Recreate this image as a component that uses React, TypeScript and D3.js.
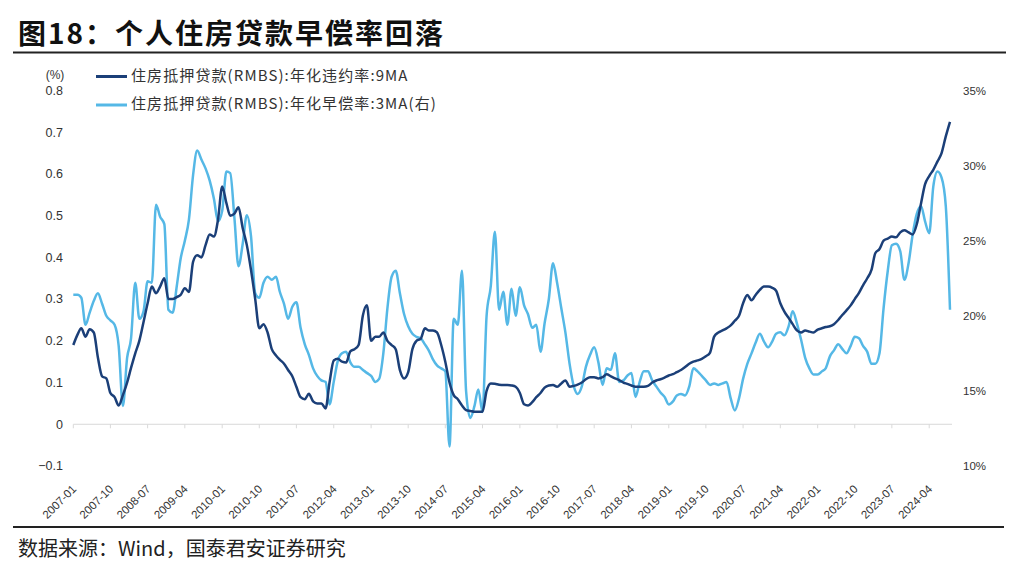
import * as d3 from "d3";
import { useMemo } from "react";

const WIDTH = 1024;
const HEIGHT = 571;

const START_MONTH = "2007-01";

// 住房抵押贷款(RMBS):年化违约率:9MA (%), monthly from 2007-01
const DEFAULT_RATE_9MA = [
  0.19, 0.215, 0.23, 0.21, 0.228, 0.22, 0.16, 0.115, 0.11, 0.075, 0.065, 0.045,
  0.07, 0.1, 0.135, 0.17, 0.2, 0.245, 0.29, 0.33, 0.314, 0.33, 0.35, 0.3,
  0.3, 0.305, 0.31, 0.326, 0.317, 0.39, 0.405, 0.4, 0.43, 0.455, 0.45, 0.49,
  0.57, 0.53, 0.5, 0.505, 0.52, 0.47, 0.43, 0.37, 0.3, 0.23, 0.24, 0.22,
  0.18, 0.165, 0.155, 0.145, 0.13, 0.115, 0.09, 0.065, 0.06, 0.073, 0.055, 0.05,
  0.05, 0.038, 0.1, 0.153, 0.157, 0.15, 0.148, 0.175, 0.18, 0.19, 0.26, 0.285,
  0.2, 0.21, 0.21, 0.22, 0.2, 0.19, 0.18, 0.13, 0.11, 0.125, 0.18, 0.2,
  0.205, 0.23, 0.225, 0.225, 0.22, 0.19, 0.15, 0.1, 0.07, 0.06, 0.045, 0.034,
  0.032, 0.03, 0.03, 0.03, 0.08, 0.098, 0.097, 0.095, 0.094, 0.094, 0.093, 0.09,
  0.075, 0.048, 0.045, 0.053, 0.065, 0.075, 0.088, 0.093, 0.094, 0.09, 0.098, 0.105,
  0.09, 0.092, 0.095, 0.1, 0.108, 0.113, 0.113, 0.11, 0.113, 0.12, 0.115, 0.11,
  0.106, 0.1, 0.097, 0.093, 0.09, 0.09, 0.09, 0.092, 0.1, 0.105, 0.108, 0.112,
  0.117, 0.12, 0.125, 0.13, 0.137, 0.145, 0.15, 0.153, 0.157, 0.163, 0.172, 0.21,
  0.22, 0.225, 0.23, 0.237, 0.248, 0.26, 0.29, 0.31, 0.297, 0.31, 0.322, 0.33,
  0.33, 0.327, 0.32, 0.29, 0.27, 0.255, 0.24, 0.225, 0.22, 0.225, 0.222, 0.22,
  0.227, 0.23, 0.233, 0.235, 0.24, 0.25, 0.262, 0.273, 0.285, 0.3, 0.315, 0.333,
  0.35, 0.37, 0.41, 0.42, 0.44, 0.445, 0.45, 0.448, 0.46, 0.465, 0.46, 0.455,
  0.48, 0.53, 0.575, 0.595, 0.61, 0.63, 0.65, 0.69, 0.725,
];

// 住房抵押贷款(RMBS):年化早偿率:3MA (%), right axis, monthly from 2007-01
const PREPAY_RATE_3MA = [
  21.4, 21.4, 21.2, 19.4, 20.2, 21.0, 21.5, 20.8, 20.0, 19.7, 19.4, 18.0,
  14.0, 17.2, 18.5, 22.2, 19.8, 20.3, 22.3, 22.2, 27.4, 26.6, 26.1, 20.4,
  20.2, 22.0, 23.8, 25.0, 26.4, 29.4, 31.0, 30.4, 29.8, 29.0, 27.8, 26.3,
  27.0, 29.6, 29.5, 26.5, 23.3, 24.8, 26.7, 25.3, 21.5, 21.2, 22.2, 22.6,
  22.4, 22.6, 21.6, 20.8, 19.8, 20.6, 20.9, 19.2, 18.1, 17.4, 16.5, 16.0,
  15.7, 15.6, 14.1, 15.6, 17.0, 17.5, 17.6, 16.9, 16.6, 16.6, 16.4, 16.2,
  16.0, 15.6, 15.8, 17.5, 20.5, 22.6, 23.0, 21.5, 20.1, 19.3, 18.8, 18.6,
  18.5, 18.1, 17.7, 17.1, 16.7, 16.5, 16.3, 11.3, 19.8, 19.4, 23.0, 15.0,
  13.2, 14.0, 15.1, 13.6, 20.0, 22.0, 25.6, 20.4, 21.6, 19.4, 21.8, 20.0,
  21.9, 20.7, 20.1, 19.2, 19.4, 17.6, 19.5, 21.1, 23.5, 22.2, 20.5, 18.9,
  16.8, 15.3, 14.8, 15.3, 16.6, 17.4, 17.9, 16.9, 15.4, 16.5, 16.4, 17.5,
  15.6, 15.7, 16.0, 16.2, 14.6, 15.6, 16.3, 16.3, 15.7, 15.3, 14.9, 14.6,
  14.1, 14.3, 14.7, 14.8, 14.7, 15.3, 16.5, 16.3, 16.0, 15.7, 15.4, 15.5,
  15.4, 15.5, 15.6, 14.5, 13.7, 14.5, 15.8, 16.8, 17.5, 18.2, 18.8, 18.3,
  17.9, 18.3, 18.8, 18.9, 18.7, 19.3, 20.3, 19.5, 18.4, 17.2, 16.5, 16.1,
  16.1, 16.3, 16.5, 17.3, 17.7, 18.1, 17.8, 17.5, 18.0, 18.6, 18.5, 18.0,
  17.6, 16.8, 16.8, 17.5, 20.5, 23.0, 24.7, 24.8, 24.3, 22.4, 23.5, 25.4,
  26.8, 27.3, 26.3, 25.5, 28.6, 29.6, 29.2, 27.3, 20.4,
];

const X_TICK_LABELS = [
  "2007-01", "2007-10", "2008-07", "2009-04", "2010-01", "2010-10",
  "2011-07", "2012-04", "2013-01", "2013-10", "2014-07", "2015-04",
  "2016-01", "2016-10", "2017-07", "2018-04", "2019-01", "2019-10",
  "2020-07", "2021-04", "2022-01", "2022-10", "2023-07", "2024-04",
];

const LEFT_TICKS = [-0.1, 0, 0.1, 0.2, 0.3, 0.4, 0.5, 0.6, 0.7, 0.8];
const RIGHT_TICKS = [10, 15, 20, 25, 30, 35];

const DARK = "#1b3f78";
const LIGHT = "#55b8e6";
const LABEL_FONT = "'Liberation Sans', Arial, sans-serif";
const CJK_FONT = "'Noto Sans CJK SC', sans-serif";

const parseMonth = d3.timeParse("%Y-%m");

const PLOT = { left: 73.3, right: 950, top: 90.5, bottom: 466 };

export default function App() {
  const chart = useMemo(() => {
    const start = parseMonth(START_MONTH) as Date;
    const dates = DEFAULT_RATE_9MA.map((_, i) => d3.timeMonth.offset(start, i));

    const x = d3
      .scaleTime()
      .domain([dates[0], dates[dates.length - 1]])
      .range([PLOT.left, PLOT.right]);
    const yLeft = d3.scaleLinear().domain([-0.1, 0.8]).range([PLOT.bottom, PLOT.top]);
    const yRight = d3.scaleLinear().domain([10, 35]).range([PLOT.bottom, PLOT.top]);

    const defaultLine = d3
      .line<number>()
      .x((_, i) => x(dates[i]))
      .y((d) => yLeft(d))
      .curve(d3.curveMonotoneX);
    const prepayLine = d3
      .line<number>()
      .x((_, i) => x(dates[i]))
      .y((d) => yRight(d))
      .curve(d3.curveMonotoneX);

    const ticks = X_TICK_LABELS.map((t) => ({ label: t, x: x(parseMonth(t) as Date) }));

    return {
      yLeft,
      yRight,
      ticks,
      defaultPath: defaultLine(DEFAULT_RATE_9MA) ?? "",
      prepayPath: prepayLine(PREPAY_RATE_3MA) ?? "",
    };
  }, []);

  const { yLeft, yRight, ticks } = chart;
  const zeroY = yLeft(0);

  return (
    <div style={{ position: "absolute", left: 0, top: 0, background: "#fff" }}>
      <svg width={WIDTH} height={HEIGHT} style={{ display: "block" }}>
        <rect width={WIDTH} height={HEIGHT} fill="#fff" />

        {/* title */}
        <text
          x={18}
          y={44}
          fontFamily={CJK_FONT}
          fontWeight={700}
          fontSize={28}
          letterSpacing={2}
          fill="#111"
        >
          图18：个人住房贷款早偿率回落
        </text>
        <line x1={13} x2={1006} y1={52.5} y2={52.5} stroke="#222" strokeWidth={2} />

        {/* left axis */}
        <text x={55} y={79} textAnchor="middle" fontFamily={LABEL_FONT} fontSize={12} fill="#333">
          (%)
        </text>
        {LEFT_TICKS.map((t) => (
          <text
            key={`l${t}`}
            x={63}
            y={yLeft(t)}
            dy="0.35em"
            textAnchor="end"
            fontFamily={LABEL_FONT}
            fontSize={12.5}
            fill="#333"
          >
            {t === 0 ? "0" : t < 0 ? `\u2212${Math.abs(t)}` : t}
          </text>
        ))}

        {/* right axis */}
        {RIGHT_TICKS.map((t) => (
          <text
            key={`r${t}`}
            x={963}
            y={yRight(t)}
            dy="0.35em"
            fontFamily={LABEL_FONT}
            fontSize={11.5}
            fill="#333"
          >
            {`${t}%`}
          </text>
        ))}

        {/* zero axis with ticks */}
        <line x1={PLOT.left} x2={952} y1={zeroY} y2={zeroY} stroke="#d9d9d9" strokeWidth={1} />
        {ticks.map((t) => (
          <line key={`t${t.label}`} x1={t.x} x2={t.x} y1={zeroY} y2={zeroY + 4} stroke="#d9d9d9" />
        ))}

        {/* x labels */}
        {ticks.map((t) => (
          <text
            key={`x${t.label}`}
            transform={`translate(${t.x - 2},${PLOT.bottom + 18}) rotate(-45)`}
            textAnchor="end"
            dy="0.7em"
            fontFamily={LABEL_FONT}
            fontSize={11.5}
            fill="#333"
          >
            {t.label}
          </text>
        ))}

        {/* series */}
        <path
          d={chart.prepayPath}
          fill="none"
          stroke={LIGHT}
          strokeWidth={2.5}
          strokeLinejoin="round"
        />
        <path
          d={chart.defaultPath}
          fill="none"
          stroke={DARK}
          strokeWidth={2.5}
          strokeLinejoin="round"
        />

        {/* legend */}
        <line x1={96} x2={127} y1={76.5} y2={76.5} stroke={DARK} strokeWidth={3} />
        <text
          x={131}
          y={76}
          dy="0.35em"
          fontFamily={CJK_FONT}
          fontSize={15}
          letterSpacing={1.1}
          fill="#333"
        >
          住房抵押贷款(RMBS):年化违约率:9MA
        </text>
        <line x1={96} x2={127} y1={105} y2={105} stroke={LIGHT} strokeWidth={3} />
        <text
          x={131}
          y={104}
          dy="0.35em"
          fontFamily={CJK_FONT}
          fontSize={15}
          letterSpacing={1.1}
          fill="#333"
        >
          住房抵押贷款(RMBS):年化早偿率:3MA(右)
        </text>

        {/* source */}
        <line x1={13} x2={1004} y1={527} y2={527} stroke="#222" strokeWidth={2} />
        <text x={18} y={556} fontFamily={CJK_FONT} fontSize={20} fill="#222">
          数据来源：Wind，国泰君安证券研究
        </text>
      </svg>
    </div>
  );
}
